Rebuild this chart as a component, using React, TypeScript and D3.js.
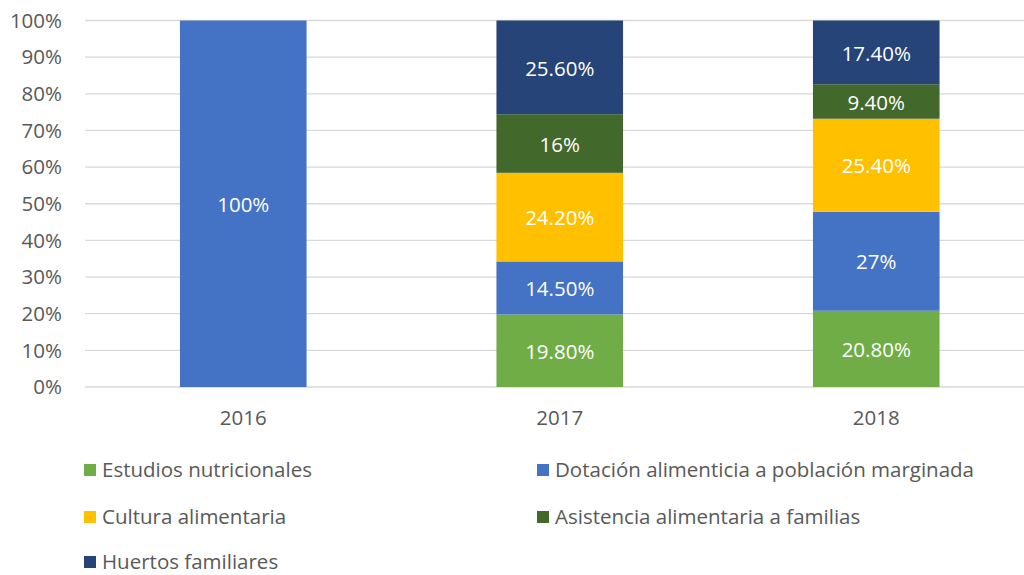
import React from 'react'
import * as d3 from 'd3'

const years = ['2016', '2017', '2018']
const seriesNames = [
  'Estudios nutricionales',
  'Dotación alimenticia a población marginada',
  'Cultura alimentaria',
  'Asistencia alimentaria a familias',
  'Huertos familiares',
]
const seriesColors = ['#70ad47', '#4472c4', '#ffc000', '#43682b', '#264478']
// values per series, per year (percent)
const estudios = [0, 19.8, 20.8]
const dotacion = [100, 14.5, 27]
const cultura = [0, 24.2, 25.4]
const asistencia = [0, 16, 9.4]
const huertos = [0, 25.6, 17.4]
const labels = [
  ['', '19.80%', '20.80%'],
  ['100%', '14.50%', '27%'],
  ['', '24.20%', '25.40%'],
  ['', '16%', '9.40%'],
  ['', '25.60%', '17.40%'],
]
const yTicks = [0, 0.1, 0.2, 0.3, 0.4, 0.5, 0.6, 0.7, 0.8, 0.9, 1]

const font = '"Open Sans", "Noto Sans", sans-serif'
const textColor = '#595959'
const fs = 20.5

export default function App() {
  const width = 1024
  const height = 575
  const left = 85
  const top = 20.5
  const bottom = 387

  const rows = years.map((y, i) => {
    const vals = [estudios[i], dotacion[i], cultura[i], asistencia[i], huertos[i]]
    const total = d3.sum(vals)
    const r: any = { year: y }
    seriesNames.forEach((s, k) => (r[s] = vals[k] / total))
    return r
  })

  const stack = d3.stack().keys(seriesNames)
  const layers = stack(rows)

  const x = d3.scaleBand().domain(years).range([left, left + 949.5]).paddingInner(0.6).paddingOuter(0.3)
  const y = d3.scaleLinear().domain([0, 1]).range([bottom, top])

  const legendPos = [
    [84, 470], [537, 470],
    [84, 517], [537, 517],
    [84, 562],
  ]

  return (
    <svg width={width} height={height} style={{ position: 'absolute', left: 0, top: 0 }}>
      <rect width={width} height={height} fill="#fff" />
      {yTicks.map(t => (
        <g key={t}>
          <line x1={left} x2={width} y1={y(t)} y2={y(t)} stroke="#d9d9d9" strokeWidth={1.3} />
          <text x={62} y={y(t)} dy="0.35em" textAnchor="end" fontFamily={font} fontSize={fs} fill={textColor}>
            {d3.format('.0%')(t)}
          </text>
        </g>
      ))}
      {layers.map((layer, k) => (
        <g key={k}>
          {layer.map((d, i) => {
            const h = y(d[0]) - y(d[1])
            if (h <= 0) return null
            const bx = x(years[i])!
            return (
              <g key={i}>
                <rect x={bx} y={y(d[1])} width={x.bandwidth()} height={h} fill={seriesColors[k]} />
                <text x={bx + x.bandwidth() / 2} y={(y(d[0]) + y(d[1])) / 2 + 1} dy="0.35em" textAnchor="middle"
                  fontFamily={font} fontSize={fs} fill="#fff">{labels[k][i]}</text>
              </g>
            )
          })}
        </g>
      ))}
      {years.map(yr => (
        <text key={yr} x={x(yr)! + x.bandwidth() / 2} y={418} dy="0.35em" textAnchor="middle"
          fontFamily={font} fontSize={fs} fill={textColor}>{yr}</text>
      ))}
      {seriesNames.map((s, k) => (
        <g key={s} transform={`translate(${legendPos[k][0]},${legendPos[k][1]})`}>
          <rect x={0} y={-6} width={12} height={12} fill={seriesColors[k]} />
          <text x={18} y={0} dy="0.35em" fontFamily={font} fontSize={fs} fill={textColor}>{s}</text>
        </g>
      ))}
    </svg>
  )
}
